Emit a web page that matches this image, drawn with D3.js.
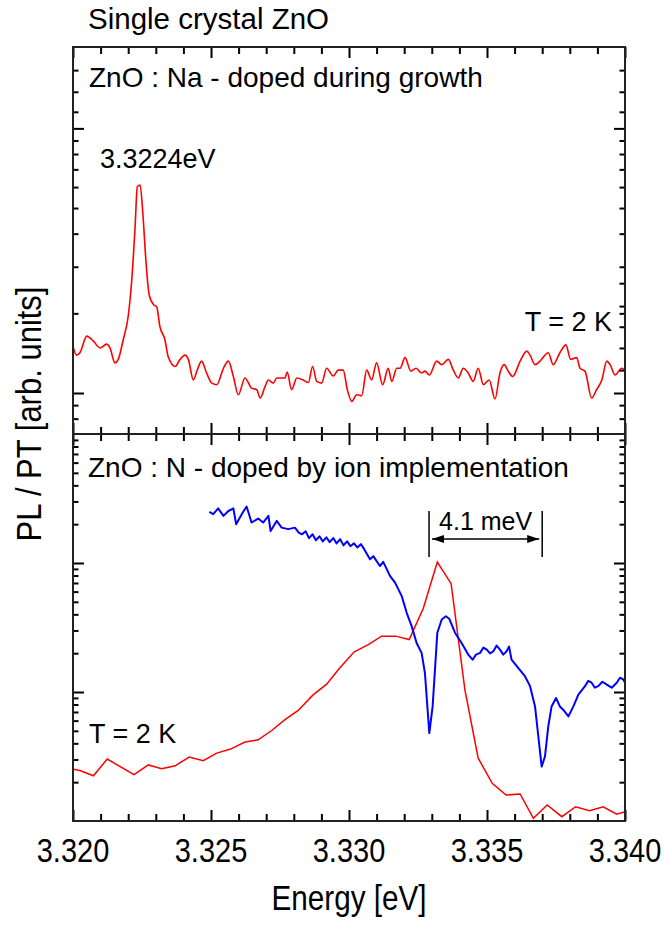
<!DOCTYPE html>
<html>
<head>
<meta charset="utf-8">
<script src="https://cdn.jsdelivr.net/npm/d3@7"></script>
<style>
  html, body { margin: 0; padding: 0; background: #fff; }
  svg { display: block; font-family: "Liberation Sans", Arial, Helvetica, sans-serif; }
</style>
</head>
<body>
<svg id="chart" width="664" height="925"></svg>
<script>
// ZnO:Na photoluminescence (top panel)
const naEnergy = [3.32000,3.32013,3.32025,3.32050,3.32074,3.32098,3.32122,3.32134,3.32152,3.32164,3.32182,3.32200,3.32213,3.32225,3.32233,3.32243,3.32253,3.32264,3.32276,3.32293,3.32303,3.32315,3.32333,3.32345,3.32370,3.32388,3.32406,3.32418,3.32436,3.32450,3.32466,3.32484,3.32503,3.32521,3.32545,3.32563,3.32581,3.32599,3.32623,3.32647,3.32666,3.32678,3.32696,3.32708,3.32726,3.32738,3.32768,3.32776,3.32792,3.32811,3.32834,3.32853,3.32868,3.32883,3.32901,3.32919,3.32943,3.32961,3.32979,3.32994,3.33010,3.33028,3.33046,3.33064,3.33082,3.33100,3.33122,3.33142,3.33155,3.33173,3.33185,3.33203,3.33224,3.33243,3.33263,3.33275,3.33291,3.33318,3.33336,3.33360,3.33378,3.33396,3.33414,3.33432,3.33450,3.33468,3.33487,3.33508,3.33529,3.33547,3.33562,3.33577,3.33593,3.33620,3.33644,3.33656,3.33674,3.33692,3.33722,3.33740,3.33764,3.33786,3.33803,3.33825,3.33837,3.33855,3.33879,3.33897,3.33916,3.33934,3.33946,3.33964,3.33988,3.34000];
const naPL = [1.50,1.39,1.42,1.64,1.57,1.48,1.53,1.48,1.30,1.34,1.59,1.95,2.68,4.25,6.02,6.11,4.78,3.18,2.35,2.15,2.12,1.78,1.59,1.37,1.26,1.34,1.39,1.34,1.12,1.22,1.32,1.19,1.09,1.075,1.24,1.32,1.155,0.985,1.14,1.044,1.029,0.957,1.06,1.12,1.09,1.14,1.14,1.20,1.029,1.14,1.12,1.096,1.26,1.106,1.09,1.24,1.16,1.22,1.22,1.029,0.930,0.985,0.977,1.22,1.12,1.30,1.075,1.24,1.106,1.24,1.24,1.36,1.21,1.24,1.19,1.21,1.17,1.32,1.28,1.34,1.22,1.14,1.24,1.19,1.106,1.24,1.075,1.12,0.949,1.19,1.28,1.21,1.155,1.32,1.44,1.39,1.28,1.32,1.42,1.28,1.42,1.52,1.34,1.36,1.24,1.21,0.957,1.029,1.12,1.32,1.28,1.17,1.24,1.22];

// ZnO:N photoluminescence (bottom panel, red)
const nPLEnergy = [3.32001,3.32025,3.32074,3.32124,3.32221,3.32273,3.32321,3.32370,3.32421,3.32472,3.32521,3.32571,3.32623,3.32671,3.32720,3.32768,3.32816,3.32868,3.32919,3.32967,3.33019,3.33070,3.33118,3.33169,3.33218,3.33269,3.33320,3.33370,3.33420,3.33468,3.33519,3.33569,3.33620,3.33668,3.33718,3.33771,3.33821,3.33871,3.33921,3.33970,3.34000];
const nPL = [2.52,2.46,2.24,3.02,2.29,2.72,2.54,2.68,3.13,2.93,3.36,3.61,4.09,4.26,5.03,6.10,7.20,9.41,11.5,15.4,20.5,23.3,27.1,27.1,25.5,44.4,101.7,69.1,10.4,3.07,1.96,1.59,1.62,1.05,1.33,1.08,1.29,1.20,1.29,1.13,1.18];

// ZnO:N photothermal signal (bottom panel, blue)
const nPTEnergy = [3.32494,3.32508,3.32526,3.32545,3.32563,3.32581,3.32591,3.32615,3.32629,3.32647,3.32671,3.32689,3.32708,3.32716,3.32738,3.32756,3.32780,3.32804,3.32818,3.32830,3.32843,3.32855,3.32868,3.32880,3.32893,3.32905,3.32918,3.32930,3.32943,3.32955,3.32968,3.32980,3.32993,3.33005,3.33018,3.33030,3.33043,3.33055,3.33076,3.33088,3.33112,3.33124,3.33149,3.33167,3.33191,3.33209,3.33227,3.33245,3.33263,3.33275,3.33291,3.33303,3.33320,3.33336,3.33351,3.33363,3.33384,3.33408,3.33432,3.33448,3.33460,3.33475,3.33487,3.33499,3.33511,3.33523,3.33535,3.33547,3.33559,3.33571,3.33580,3.33589,3.33613,3.33638,3.33656,3.33674,3.33686,3.33698,3.33710,3.33722,3.33734,3.33750,3.33764,3.33776,3.33795,3.33813,3.33831,3.33855,3.33867,3.33879,3.33891,3.33903,3.33918,3.33934,3.33952,3.33970,3.33982,3.33994,3.34000];
const nPT = [249,239,265,232,253,265,200,246,274,206,221,206,232,177,212,188,183,188,172,167,176,156,167,150,161,147,158,145,156,142,153,137,147,135,142,132,140,128,107,113,94.7,102,79.2,70.4,55.4,41.1,32.4,24.0,20.1,14.1,4.80,7.73,28.8,36.5,38.7,37.0,28.8,24.0,19.5,17.8,19.5,20.1,22.1,21.3,19.9,20.7,22.9,21.3,19.5,20.7,22.5,17.8,15.4,13.2,11.1,7.73,4.52,2.64,3.16,5.41,7.73,8.99,7.73,7.29,6.47,7.73,9.53,11.1,12.2,11.8,10.8,11.1,12.0,11.4,10.8,11.8,12.9,12.5,11.8];

// Axis ticks and labels
const xTickValues = [3.320, 3.325, 3.330, 3.335, 3.340];
const xTickLabels = ["3.320", "3.325", "3.330", "3.335", "3.340"];
const xMinorTicks = d3.range(3.321, 3.340, 0.001).filter(v => Math.abs(v*200 - Math.round(v*200)) > 1e-6);
const topMajorY = [1, 10];
const topMinorY = [0.8, 0.9, 2, 3, 4, 5, 6, 7, 8, 9, 11.55, 13.75, 16.6];
const topMinorYRightExtra = [1.22, 1.48, 1.78, 2.13, 2.6];
const botMajorY = [10, 100];
const botMinorY = [2,3,4,5,6,7,8,9,20,30,40,50,60,70,80,90,200,300,400,500,600,700,800,900];

// peak markers in the bottom panel (eV)
const splitLeft = 3.3329, splitRight = 3.3370;

const L = 73, R = 625, T1 = 47, MID = 434, B2 = 821;
const svg = d3.select("#chart");

const x = d3.scaleLinear().domain([3.320, 3.340]).range([L, R]);
const yTop = d3.scaleLog().domain([0.7, 20.3]).range([MID, T1]);
const yBot = d3.scaleLog().domain([1, 1000]).range([B2, MID]);

const defs = svg.append("defs");
defs.append("clipPath").attr("id", "clipTop")
  .append("rect").attr("x", L).attr("y", T1).attr("width", R - L).attr("height", MID - T1);
defs.append("clipPath").attr("id", "clipBot")
  .append("rect").attr("x", L).attr("y", MID).attr("width", R - L).attr("height", B2 - MID);

const mk = defs.append("marker").attr("id", "arrowhead")
  .attr("viewBox", "0 0 12 8").attr("refX", 12).attr("refY", 4)
  .attr("markerWidth", 12).attr("markerHeight", 8).attr("markerUnits", "userSpaceOnUse")
  .attr("orient", "auto-start-reverse");
mk.append("path").attr("d", "M0,0 L12,4 L0,8 Z").attr("fill", "#000");

// spectra
const lineTop = d3.line().curve(d3.curveMonotoneX).x(d => x(d[0])).y(d => yTop(d[1]));
const lineBot = d3.line().x(d => x(d[0])).y(d => yBot(d[1]));

svg.append("path").datum(d3.zip(naEnergy, naPL))
  .attr("clip-path", "url(#clipTop)")
  .attr("d", lineTop).attr("fill", "none").attr("stroke", "#ff0000")
  .attr("stroke-width", 1.6).attr("stroke-linejoin", "round");

svg.append("path").datum(d3.zip(nPLEnergy, nPL))
  .attr("clip-path", "url(#clipBot)")
  .attr("d", lineBot).attr("fill", "none").attr("stroke", "#ff0000")
  .attr("stroke-width", 1.5).attr("stroke-linejoin", "miter");

svg.append("path").datum(d3.zip(nPTEnergy, nPT))
  .attr("clip-path", "url(#clipBot)")
  .attr("d", lineBot).attr("fill", "none").attr("stroke", "#0000ff")
  .attr("stroke-width", 2).attr("stroke-linejoin", "round");

// inward ticks on every panel edge
const tickStyle = g => {
  g.select(".domain").remove();
  g.selectAll(".tick line").attr("stroke", "#000").attr("stroke-width", 2);
  g.selectAll(".tick text").remove();
};
function xEdge(y, axisFn) {
  svg.append("g").attr("transform", `translate(0,${y})`)
    .call(axisFn(x).tickValues(xMinorTicks).tickSize(-7).tickFormat("")).call(tickStyle);
  svg.append("g").attr("transform", `translate(0,${y})`)
    .call(axisFn(x).tickValues(xTickValues).tickSize(-11).tickFormat("")).call(tickStyle);
}
xEdge(T1, d3.axisTop);
xEdge(MID, d3.axisBottom);
xEdge(MID, d3.axisTop);
xEdge(B2, d3.axisBottom);

function yEdge(scale, xpos, axisFn, major, minor) {
  svg.append("g").attr("transform", `translate(${xpos},0)`)
    .call(axisFn(scale).tickValues(minor).tickSize(-5.5).tickFormat("")).call(tickStyle);
  svg.append("g").attr("transform", `translate(${xpos},0)`)
    .call(axisFn(scale).tickValues(major).tickSize(-11).tickFormat("")).call(tickStyle);
}
yEdge(yTop, L, d3.axisLeft, topMajorY, topMinorY);
yEdge(yTop, R, d3.axisRight, topMajorY, topMinorY.concat(topMinorYRightExtra));
yEdge(yBot, L, d3.axisLeft, botMajorY, botMinorY);
yEdge(yBot, R, d3.axisRight, botMajorY, botMinorY);

// panel frames
svg.append("rect").attr("x", L).attr("y", T1).attr("width", R - L).attr("height", MID - T1)
  .attr("fill", "none").attr("stroke", "#222").attr("stroke-width", 2);
svg.append("rect").attr("x", L).attr("y", MID).attr("width", R - L).attr("height", B2 - MID)
  .attr("fill", "none").attr("stroke", "#222").attr("stroke-width", 2);

// x tick labels (slightly tall glyphs)
svg.append("g").selectAll("text").data(xTickValues).join("text")
  .attr("transform", d => `translate(${x(d)},862) scale(1,1.15)`)
  .attr("text-anchor", "middle").attr("font-size", 29).attr("fill", "#000")
  .text((d, i) => xTickLabels[i]);

// axis titles
svg.append("text").attr("transform", `translate(${(L + R) / 2},910) scale(1,1.18)`)
  .attr("text-anchor", "middle").attr("font-size", 29.7).text("Energy [eV]");
svg.append("text").attr("transform", "translate(41,414) rotate(-90) scale(1,1.12)")
  .attr("text-anchor", "middle").attr("font-size", 31).text("PL / PT [arb. units]");

// annotations
svg.append("text").attr("x", 88).attr("y", 29).attr("font-size", 29.5).text("Single crystal ZnO");
svg.append("text").attr("x", 89).attr("y", 87).attr("font-size", 28).text("ZnO : Na - doped during growth");
svg.append("text").attr("x", 100).attr("y", 168).attr("font-size", 27).text("3.3224eV");
svg.append("text").attr("x", 612).attr("y", 331).attr("text-anchor", "end").attr("font-size", 27).text("T = 2 K");
svg.append("text").attr("x", 88).attr("y", 477).attr("font-size", 28).text("ZnO : N - doped by ion implementation");
svg.append("text").attr("x", 89).attr("y", 743).attr("font-size", 27).text("T = 2 K");

// 4.1 meV splitting marker
[splitLeft, splitRight].forEach(e => {
  svg.append("line").attr("x1", x(e)).attr("x2", x(e)).attr("y1", 511).attr("y2", 557)
    .attr("stroke", "#000").attr("stroke-width", 1.5);
});
svg.append("line").attr("x1", x(splitLeft) + 3).attr("x2", x(splitRight) - 3)
  .attr("y1", 539).attr("y2", 539).attr("stroke", "#000").attr("stroke-width", 1.5)
  .attr("marker-start", "url(#arrowhead)").attr("marker-end", "url(#arrowhead)");
svg.append("text").attr("x", (x(splitLeft) + x(splitRight)) / 2).attr("y", 530)
  .attr("text-anchor", "middle").attr("font-size", 25).text("4.1 meV");
</script>
</body>
</html>
